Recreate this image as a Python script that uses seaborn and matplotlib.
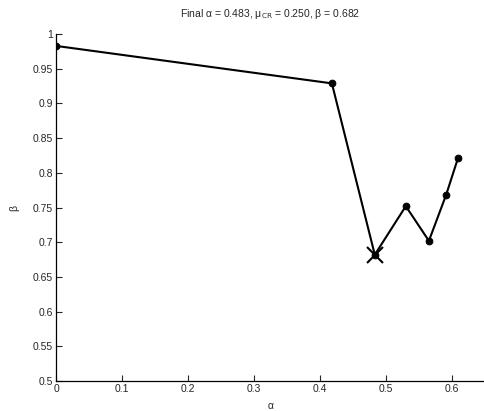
import numpy as np
import pandas as pd
import matplotlib
matplotlib.use("Agg")
import matplotlib.pyplot as plt
import seaborn as sns

# search path
alpha = [0.0, 0.418, 0.483, 0.530, 0.565, 0.591, 0.609]
beta = [0.983, 0.929, 0.682, 0.752, 0.702, 0.768, 0.821]
final_alpha = 0.483
final_beta = 0.682

df = pd.DataFrame({"alpha": alpha, "beta": beta})

sns.set_style("ticks")
plt.rcParams["font.family"] = ["Arimo", "Liberation Sans", "DejaVu Sans"]
plt.rcParams["font.size"] = 7.5

fig = plt.figure(figsize=(4.85, 4.11), dpi=100)
ax = fig.add_axes([0.1155, 0.073, 0.8845, 0.844])

sns.lineplot(data=df, x="alpha", y="beta", sort=False, color="black",
             linewidth=1.5, marker="o", markersize=4.8, markeredgecolor="black", ax=ax)
ax.plot([final_alpha], [final_beta], marker="x", markersize=11, mew=1.5, color="black")

ax.set_xlim(0, 0.65)
ax.set_ylim(0.5, 1.0)
ax.set_xticks(np.arange(0, 0.61, 0.1))
ax.set_xticklabels(["0", "0.1", "0.2", "0.3", "0.4", "0.5", "0.6"])
ax.set_yticks(np.arange(0.5, 1.001, 0.05))
ax.set_yticklabels(["0.5", "0.55", "0.6", "0.65", "0.7", "0.75", "0.8", "0.85", "0.9", "0.95", "1"])
ax.tick_params(direction="in", length=4, width=0.8, labelsize=7.5, colors="#262626", pad=2)
ax.set_xlabel("α", fontsize=7.5, labelpad=5)
ax.set_ylabel("β", fontsize=7.5, labelpad=10)
ax.set_title("Final α = 0.483, μ$_{\\rm CR}$ = 0.250, β = 0.682", fontsize=7.5, pad=12)
sns.despine(ax=ax)
for s in ["left", "bottom"]:
    ax.spines[s].set_linewidth(0.9)
    ax.spines[s].set_color("black")

fig.savefig("out.png", dpi=100)
